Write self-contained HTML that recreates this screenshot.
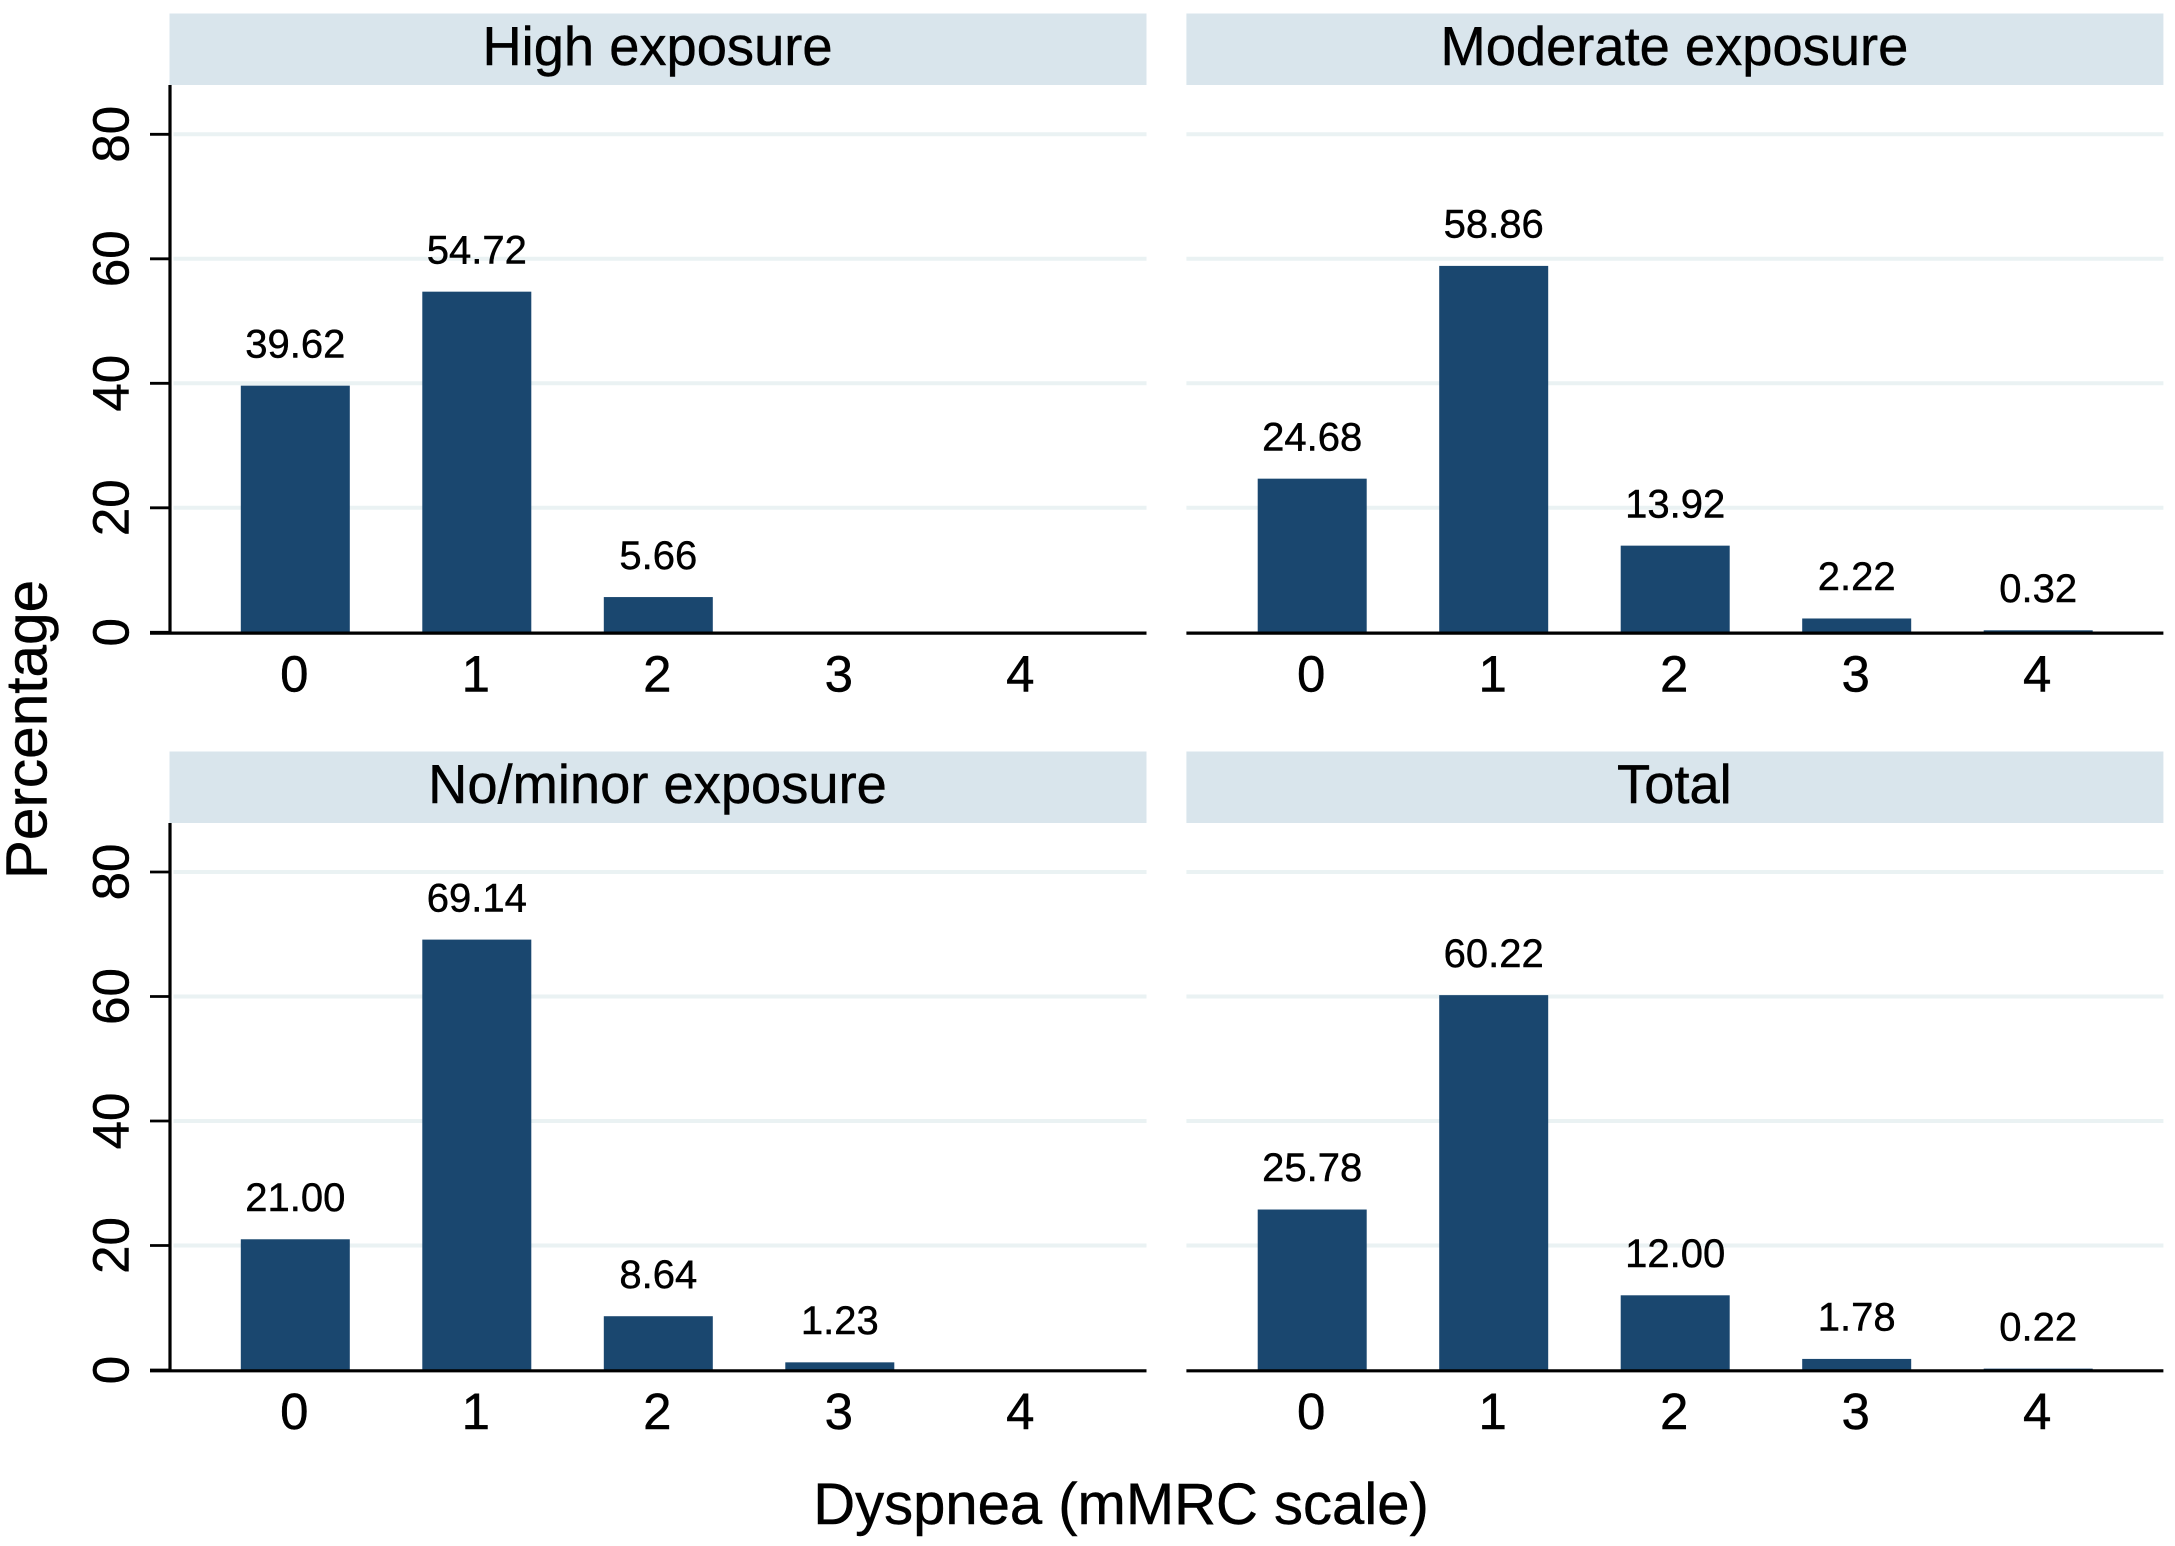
<!DOCTYPE html>
<html lang="en">
<head>
<meta charset="utf-8">
<title>Dyspnea (mMRC scale) by exposure</title>
<style>
  html, body { margin: 0; padding: 0; background: #ffffff; }
  #chart { display: block; width: 2175px; height: 1546px; font-family: "Liberation Sans", Arial, sans-serif; fill: #000; }
  #chart text { stroke: #000; stroke-width: 0.45px; }
</style>
</head>
<body>
<svg id="chart" xmlns="http://www.w3.org/2000/svg" width="2175" height="1546" viewBox="0 0 2175 1546">
  <rect x="0" y="0" width="2175" height="1546" fill="#ffffff"></rect>
  <text transform="translate(46.5 729.5) rotate(-90)" text-anchor="middle" font-size="58.5">Percentage</text>
  <text x="1121" y="1524" text-anchor="middle" font-size="58">Dyspnea (mMRC scale)</text>
</svg>
<script>
const categories = ['0', '1', '2', '3', '4'];
const yTicks = [0, 20, 40, 60, 80];
const panelTitles = ['High exposure', 'Moderate exposure', 'No/minor exposure', 'Total'];
const highExposure = [39.62, 54.72, 5.66, null, null];
const moderateExposure = [24.68, 58.86, 13.92, 2.22, 0.32];
const noMinorExposure = [21.00, 69.14, 8.64, 1.23, null];
const totalValues = [25.78, 60.22, 12.00, 1.78, 0.22];

const panelSeries = [highExposure, moderateExposure, noMinorExposure, totalValues];

const SVG_NS = 'http://www.w3.org/2000/svg';
const chart = document.getElementById('chart');

function make(tag, parent, attrs, text) {
  const node = document.createElementNS(SVG_NS, tag);
  Object.keys(attrs).forEach(function (k) { node.setAttribute(k, attrs[k]); });
  if (text !== undefined) node.textContent = text;
  parent.appendChild(node);
  return node;
}

// Layout of the small multiples
const PANEL_LEFT = [169.5, 1186.4];
const PANEL_WIDTH = 977;
const STRIP_TOP = [13.5, 751.5];
const STRIP_H = 71.5;
const ZERO_Y = [632.3, 1370];
const PX_PER_UNIT = 6.225;
const FIRST_BAR_OFFSET = 125.8;
const BAR_STEP = 181.5;
const BAR_WIDTH = 109;

function xScale(col, index) {
  return PANEL_LEFT[col] + FIRST_BAR_OFFSET + index * BAR_STEP;
}
function yScale(row, value) {
  return ZERO_Y[row] - value * PX_PER_UNIT;
}

panelSeries.forEach(function (series, p) {
  const col = p % 2;
  const row = Math.floor(p / 2);
  const left = PANEL_LEFT[col];
  const right = left + PANEL_WIDTH;

  const group = make('g', chart, {});
  
  

  const strip = make('rect', group, { x: left, y: STRIP_TOP[row], width: PANEL_WIDTH, height: STRIP_H, fill: '#d9e5ec' });
  
  

  const title = make('text', group, { x: left + PANEL_WIDTH / 2 - 0.5, y: STRIP_TOP[row] + 51.5, 'text-anchor': 'middle', 'font-size': 54.3 }, panelTitles[p]);
  
  

  yTicks.forEach(function (tick) {
    if (tick === 0) return;
    const grid = make('line', group, { x1: col === 0 ? left + 4 : left, x2: right, y1: yScale(row, tick), y2: yScale(row, tick), stroke: '#eaf2f3', 'stroke-width': 4 });
    
    
  });

  series.forEach(function (value, i) {
    if (value === null) return;
    const cx = xScale(col, i);
    const top = yScale(row, value);
    const bar = make('rect', group, { x: cx - BAR_WIDTH / 2, y: top, width: BAR_WIDTH, height: ZERO_Y[row] - top, fill: '#1a476f' });
    
    

    const valueLabel = make('text', group, { x: cx, y: top - 28.3, 'text-anchor': 'middle', 'font-size': 40 }, value.toFixed(2));
    
    
  });

  const xAxis = make('line', group, { x1: col === 0 ? 150 : left, x2: right, y1: ZERO_Y[row] + 0.8, y2: ZERO_Y[row] + 0.8, stroke: '#000', 'stroke-width': 3.2 });
  
  

  categories.forEach(function (cat, i) {
    const xTick = make('text', group, { x: xScale(col, i) - 1, y: ZERO_Y[row] + 59, 'text-anchor': 'middle', 'font-size': 51 }, cat);
    
    
  });

  if (col === 0) {
    const yAxis = make('line', group, { x1: 170, x2: 170, y1: STRIP_TOP[row] + STRIP_H, y2: ZERO_Y[row] + 1.5, stroke: '#000', 'stroke-width': 3.2 });
    
    

    yTicks.forEach(function (tick) {
      const mark = make('line', group, { x1: 150, x2: 170, y1: yScale(row, tick), y2: yScale(row, tick), stroke: '#000', 'stroke-width': 2.8 });
      
      

      const yLabel = make('text', group, { transform: 'translate(128.5 ' + yScale(row, tick) + ') rotate(-90)', 'text-anchor': 'middle', 'font-size': 51 }, String(tick));
      
      
    });
  }
});
</script>
</body>
</html>
